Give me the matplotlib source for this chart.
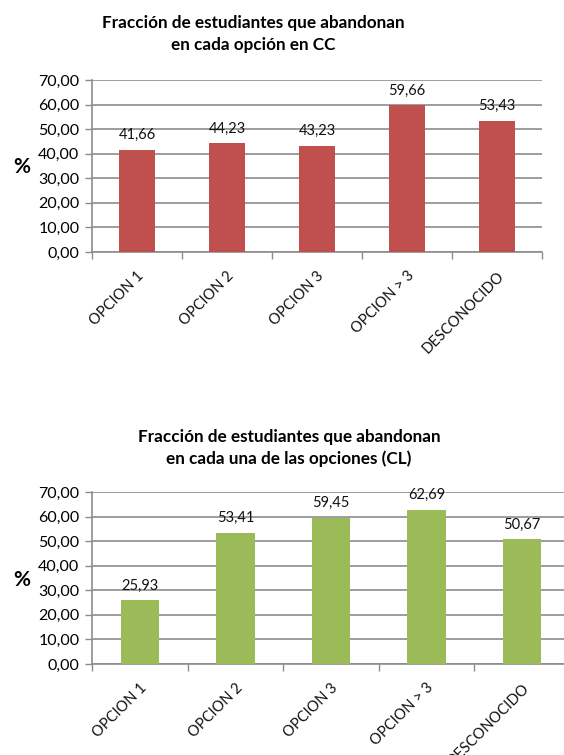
import matplotlib
matplotlib.use("Agg")
import matplotlib.pyplot as plt
import numpy as np

plt.rcParams['font.family'] = ['Lato', 'DejaVu Sans']

categories = ["OPCION 1", "OPCION 2", "OPCION 3", "OPCION > 3", "DESCONOCIDO"]
cc_values = [41.66, 44.23, 43.23, 59.66, 53.43]
cl_values = [25.93, 53.41, 59.45, 62.69, 50.67]
cc_title = "Fracción de estudiantes que abandonan\nen cada opción en CC"
cl_title = "Fracción de estudiantes que abandonan\nen cada una de las opciones (CL)"
yticks = [0, 10, 20, 30, 40, 50, 60, 70]

W, H = 564, 755
fig = plt.figure(figsize=(W / 100, H / 100), dpi=100)

def px_axes(left, top, right, bottom):
    return fig.add_axes([left / W, 1 - bottom / H, (right - left) / W, (bottom - top) / H])

def fmt(v):
    return f"{v:.2f}".replace(".", ",")

def draw(ax, values, color):
    x = np.arange(len(categories))
    ax.set_xlim(-0.5, len(categories) - 0.5)
    ax.set_ylim(0, 70)
    ax.set_yticks(yticks)
    ax.set_yticklabels([fmt(t) for t in yticks], fontsize=11.5)
    ax.yaxis.grid(True, color='#8c8c8c', linewidth=1.2)
    ax.set_axisbelow(True)
    ax.bar(x, values, width=0.4, color=color, edgecolor='none', zorder=3)
    for xi, v in zip(x, values):
        ax.text(xi, v + 3.2, fmt(v), ha='center', va='bottom', fontsize=10.5, color='#111111')
    for s in ['top', 'right']:
        ax.spines[s].set_visible(False)
    for s in ['left', 'bottom']:
        ax.spines[s].set_color('#8c8c8c')
        ax.spines[s].set_linewidth(1.2)
    ax.set_xticks(np.arange(len(categories) + 1) - 0.5)
    ax.set_xticklabels([])
    ax.tick_params(axis='x', length=5, color='#8c8c8c', width=1)
    ax.tick_params(axis='y', length=5, color='#8c8c8c', width=1, pad=4)
    for xi, c in zip(x, categories):
        ax.annotate(c, xy=(xi, 0), xycoords=('data', 'axes fraction'),
                    xytext=(0, -12), textcoords='offset points',
                    rotation=45, ha='right', va='top', rotation_mode='anchor',
                    fontsize=10.5, color='#111111', annotation_clip=False)

ax1 = px_axes(92, 80, 542, 252)
draw(ax1, cc_values, '#C0504D')
fig.text(253 / W, 1 - 34 / H, cc_title, ha='center', va='center', fontsize=12.3,
         fontweight='bold', linespacing=1.45, multialignment='center')
fig.text(22 / W, 1 - 167 / H, '%', ha='center', va='center', fontsize=15, fontweight='bold')

ax2 = px_axes(92, 492, 570, 664)
draw(ax2, cl_values, '#9BBB59')
fig.text(289 / W, 1 - 448 / H, cl_title, ha='center', va='center', fontsize=12.3,
         fontweight='bold', linespacing=1.45, multialignment='center')
fig.text(22 / W, 1 - 580 / H, '%', ha='center', va='center', fontsize=15, fontweight='bold')

fig.savefig("out.png", dpi=100)
